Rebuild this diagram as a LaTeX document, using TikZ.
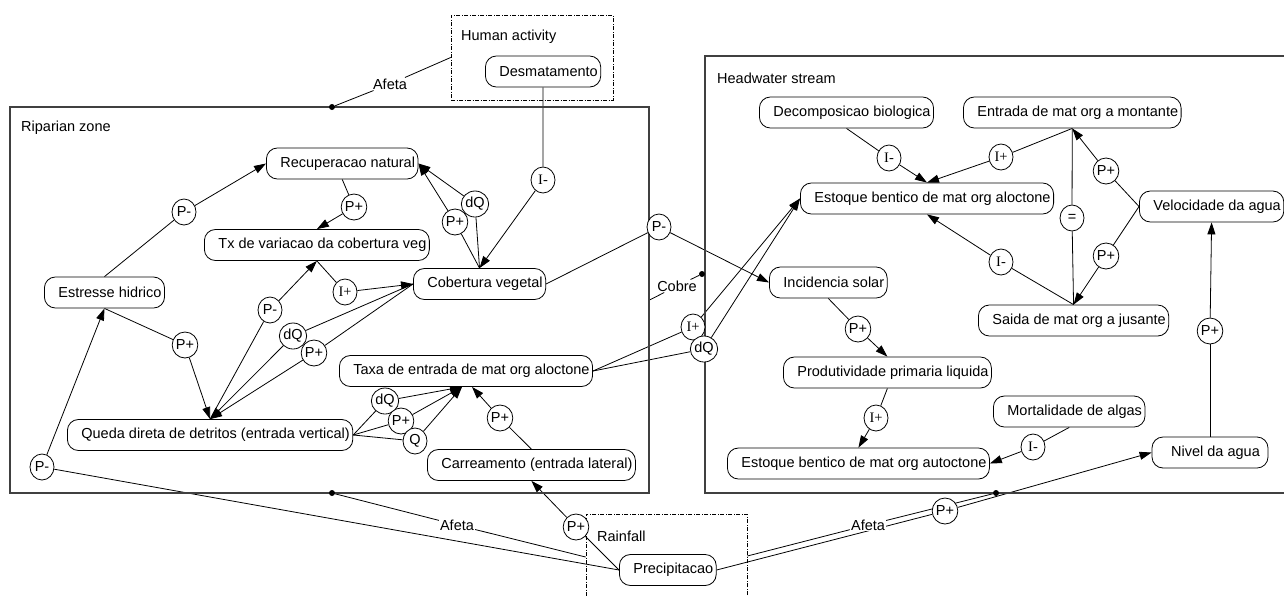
\documentclass[tikz,border=0pt]{standalone}
\usepackage{fontspec}
\setmainfont{Liberation Sans}
\newfontfamily\serifq{Liberation Serif}
\usetikzlibrary{arrows.meta,shapes.geometric,calc}
\pgfdeclarelayer{bg}
\pgfsetlayers{bg,main}

\begin{document}
\begin{tikzpicture}[x=1pt,y=-1pt,
  font=\fontsize{14.5}{16}\selectfont,
  qbox/.style={draw, fill=white, line width=0.8pt, rounded corners=11pt,
    minimum height=31pt, inner xsep=3pt, inner ysep=0pt,
    execute at begin node=\hspace*{11pt}},
  qdep/.style={draw, fill=white, ellipse, line width=0.8pt,
    minimum width=24pt, minimum height=26pt, inner sep=0pt},
  link/.style={line width=0.8pt},
  arr/.style={link, -{Triangle[length=12pt,width=8pt]}},
  zoneframe/.style={draw=black!75, line width=1.1pt, inner sep=0pt},
  grpbox/.style={draw, line width=0.7pt, inner sep=0pt,
    dash pattern=on 4pt off 1.5pt on 1pt off 1.5pt},
  rellabel/.style={fill=white, inner sep=1pt},
  grplabel/.style={anchor=west, inner sep=0pt},
  reldot/.style={fill, circle, inner sep=0pt, minimum size=6pt}
]
\useasboundingbox (0,0) rectangle (1284,595);
\begin{pgfonlayer}{bg}
\fill[white] (0,0) rectangle (1284,595);
\end{pgfonlayer}

% groups
\node[zoneframe, minimum width=639pt, minimum height=386pt] (rip) at (329.5,300) {};
\node[zoneframe, minimum width=585pt, minimum height=437pt] (hw) at (997.5,274.5) {};
\node[grpbox, minimum width=162pt, minimum height=85pt] (ha) at (532,57.5) {};
\node[grpbox, minimum width=161pt, minimum height=96pt] (rain) at (666.5,562) {};
\node[grplabel] (capRip) at (21,128) {Riparian zone};
\node[grplabel] (capHw) at (717,78) {Headwater stream};
\node[grplabel] (capHa) at (461,37) {Human activity};
\node[grplabel] (capRain) at (597,536) {Rainfall};

% quantities
\node[qbox, anchor=west] (desm) at (485,71.5) {Desmatamento};
\node[qbox, anchor=west] (recup) at (266,163.5) {Recuperacao natural};
\node[qbox, anchor=west] (tx) at (204,245) {Tx de variacao da cobertura veg};
\node[qbox, anchor=west] (estresse) at (44,292.5) {Estresse hidrico};
\node[qbox, anchor=west] (cob) at (413,284) {Cobertura vegetal};
\node[qbox, anchor=west] (taxa) at (339,371) {Taxa de entrada de mat org aloctone};
\node[qbox, anchor=west] (queda) at (67,435) {Queda direta de detritos (entrada vertical)};
\node[qbox, anchor=west] (carr) at (427,465) {Carreamento (entrada lateral)};
\node[qbox, anchor=west] (precip) at (619,570) {Precipitacao};
\node[qbox, anchor=west] (decomp) at (759,112.5) {Decomposicao biologica};
\node[qbox, anchor=west] (entrada) at (963,112.5) {Entrada de mat org a montante};
\node[qbox, anchor=west] (estA) at (800,198.5) {Estoque bentico de mat org aloctone};
\node[qbox, anchor=west] (vel) at (1139,206.5) {Velocidade da agua};
\node[qbox, anchor=west] (inc) at (769,282.5) {Incidencia solar};
\node[qbox, anchor=west] (saida) at (978,320.5) {Saida de mat org a jusante};
\node[qbox, anchor=west] (prod) at (783,372.5) {Produtividade primaria liquida};
\node[qbox, anchor=west] (mort) at (993,411.5) {Mortalidade de algas};
\node[qbox, anchor=west] (estB) at (727,463.5) {Estoque bentico de mat org autoctone};
\node[qbox, execute at begin node=, minimum width=116pt] (nivel) at (1210,452.5) {Nivel da agua};

% dependencies
\node[qdep] (pm1) at (184,212) {P-};
\node[qdep] (pp1) at (354,207) {P+};
\node[qdep] (ip1) at (345,292) {\serifq I+};
\node[qdep] (pm2) at (270,310) {P-};
\node[qdep] (dq1) at (293,336) {dQ};
\node[qdep] (pp2) at (314,353) {P+};
\node[qdep] (pp3) at (185,345) {P+};
\node[qdep] (pm3) at (42,467) {P-};
\node[qdep] (pp4) at (455,222) {P+};
\node[qdep] (dq2) at (475,204) {dQ};
\node[qdep] (im1) at (543,180) {\serifq I-};
\node[qdep] (pm4) at (659,227) {P-};
\node[qdep] (dq3) at (385,401) {dQ};
\node[qdep] (pp5) at (401,421) {P+};
\node[qdep] (q1) at (415,441) {Q};
\node[qdep] (pp6) at (500,418) {P+};
\node[qdep] (pp7) at (576,527) {P+};
\node[qdep] (ip2) at (693,327) {\serifq I+};
\node[qdep] (dq4) at (704,349) {dQ};
\node[qdep] (im2) at (889,158) {\serifq I-};
\node[qdep] (ip3) at (1001,157) {\serifq I+};
\node[qdep] (im3) at (1001,262) {\serifq I-};
\node[qdep] (eq) at (1072,218) {=};
\node[qdep] (pp8) at (1106,171) {P+};
\node[qdep] (pp9) at (1106,256) {P+};
\node[qdep] (pp10) at (1210,331) {P+};
\node[qdep] (pp11) at (858,329) {P+};
\node[qdep] (ip4) at (876,418) {\serifq I+};
\node[qdep] (im4) at (1033,447) {\serifq I-};
\node[qdep] (pp12) at (945,511) {P+};

% relations between groups
\node[rellabel] (af1) at (390,84) {Afeta};
\node[rellabel] (af2) at (457,525) {Afeta};
\node[rellabel] (af3) at (868,525) {Afeta};
\node[rellabel] (cobre) at (677,286) {Cobre};
\node[reldot] (d1) at (332,107) {};
\node[reldot] (d2) at (332,493) {};
\node[reldot] (d3) at (996,493) {};
\node[reldot] (d4) at (702,274) {};
\coordinate (rainL) at ($(rain.west)+(0,-5)$);
\coordinate (rainR) at ($(rain.east)+(0,-6)$);
\coordinate (taxaA) at ($(taxa.south west)+(123,0)$);
\coordinate (taxaB) at ($(taxa.south west)+(133,0)$);

\begin{pgfonlayer}{bg}
\draw[link] (d1) -- (af1) -- (ha.west);
\draw[link] (d2) -- (af2) -- (rainL);
\draw[link] (rainR) -- (af3) -- (d3);
\draw[link] (rip.east) -- (cobre) -- (d4);

% riparian zone
\draw[link] (estresse.north) -- (pm1); \draw[arr] (pm1) -- (recup.west);
\draw[link] (recup.south) -- (pp1); \draw[arr] (pp1) -- (tx.north);
\draw[link] (tx.south) -- (ip1); \draw[arr] (ip1) -- (cob.west);
\draw[link] (queda.north) -- (pm2); \draw[arr] (pm2) -- (tx.south);
\draw[link] (cob.west) -- (dq1); \draw[arr] (dq1) -- (queda.north);
\draw[link] (cob.west) -- (pp2); \draw[arr] (pp2) -- (queda.north);
\draw[link] (estresse.south) -- (pp3); \draw[arr] (pp3) -- (queda.north);
\draw[link] (precip.west) -- (pm3); \draw[arr] (pm3) -- (estresse.south);
\draw[link] (cob.north) -- (pp4); \draw[arr] (pp4) -- (recup.east);
\draw[link] (cob.north) -- (dq2); \draw[arr] (dq2) -- (recup.east);
\draw[link] (desm.south) -- (im1); \draw[arr] (im1) -- (cob.north);
\draw[link] (cob.east) -- (pm4); \draw[arr] (pm4) -- (inc.west);
\draw[link] (queda.east) -- (dq3); \draw[arr] (dq3) -- (taxaA);
\draw[link] (queda.east) -- (pp5); \draw[arr] (pp5) -- (taxaA);
\draw[link] (queda.east) -- (q1); \draw[arr] (q1) -- (taxaA);
\draw[link] (carr.north) -- (pp6); \draw[arr] (pp6) -- (taxaB);
\draw[link] (precip.west) -- (pp7); \draw[arr] (pp7) -- (carr.south);

% headwater stream
\draw[link] (taxa.east) -- (ip2); \draw[arr] (ip2) -- (estA.west);
\draw[link] (taxa.east) -- (dq4); \draw[arr] (dq4) -- (estA.west);
\draw[link] (decomp.south) -- (im2); \draw[arr] (im2) -- (estA.north);
\draw[link] (entrada.south) -- (ip3); \draw[arr] (ip3) -- (estA.north);
\draw[link] (saida.north) -- (im3); \draw[arr] (im3) -- (estA.south);
\draw[link] (entrada.south) -- (eq) -- (saida.north);
\draw[link] (vel.west) -- (pp8); \draw[arr] (pp8) -- (entrada.south);
\draw[link] (vel.west) -- (pp9); \draw[arr] (pp9) -- (saida.north);
\draw[link] (nivel.north) -- (pp10); \draw[arr] (pp10) -- (vel.south);
\draw[link] (inc.south) -- (pp11); \draw[arr] (pp11) -- (prod.north);
\draw[link] (prod.south) -- (ip4); \draw[arr] (ip4) -- (estB.north);
\draw[link] (mort.south) -- (im4); \draw[arr] (im4) -- (estB.east);
\draw[link] (precip.east) -- (pp12); \draw[arr] (pp12) -- (nivel.west);
\end{pgfonlayer}
\end{tikzpicture}
\end{document}
